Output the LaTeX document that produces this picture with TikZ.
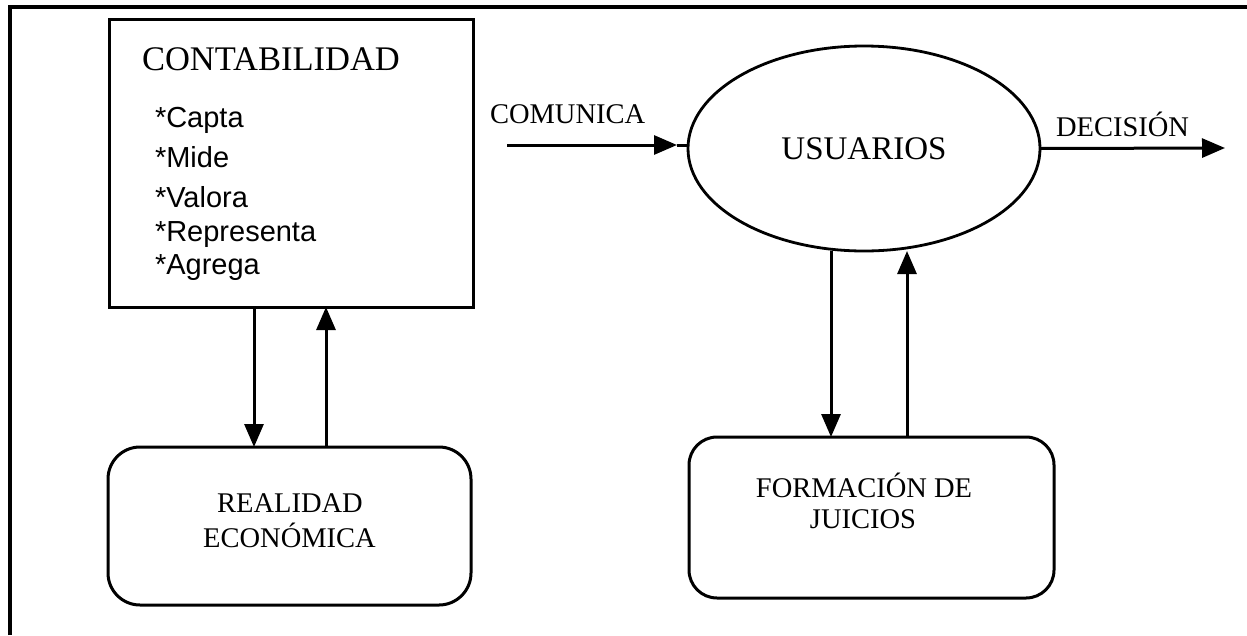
\documentclass[tikz,border=0pt]{standalone}
\usepackage{fontspec}
\setmainfont{Liberation Serif}
\newfontfamily\arialf{Liberation Sans}
\usetikzlibrary{arrows.meta,shapes.geometric}
\begin{document}
\begin{tikzpicture}[x=1pt,y=-1pt,
  boxst/.style={draw, line width=3pt, inner sep=0pt, outer sep=0pt},
  arr/.style={line width=3pt, -{Triangle[length=23pt,width=19pt]}},
  ln/.style={line width=3pt},
  txt/.style={inner sep=0pt, outer sep=0pt},
  lbl/.style={txt, font=\fontsize{28.5}{34}\selectfont},
  item/.style={txt, anchor=base west, font=\arialf\fontsize{29}{34}\selectfont}]
\useasboundingbox (0,0) rectangle (1247,635);
% outer frame
\draw[line width=3.2pt] (10,635) -- (10,7) -- (1247,7);
% CONTABILIDAD box
\node[boxst, minimum width=364pt, minimum height=288pt] (cont) at (291,163) {};
\node[txt, anchor=base west, font=\fontsize{34.5}{40}\selectfont] (contt) at (142,70) {CONTABILIDAD};
\node[item] (i1) at (155,127) {*Capta};
\node[item] (i2) at (155,167) {*Mide};
\node[item] (i3) at (155,207) {*Valora};
\node[item] (i4) at (155,241) {*Representa};
\node[item] (i5) at (155,274) {*Agrega};
% USUARIOS ellipse
\node[draw, ellipse, line width=2.8pt, inner sep=0pt, outer sep=0pt,
      minimum width=352pt, minimum height=205pt,
      font=\fontsize{33}{38}\selectfont] (usr) at (864,148.5) {USUARIOS};
\node[lbl, anchor=base west] (com) at (490,123) {COMUNICA};
\node[lbl, anchor=base west] (dec) at (1056,136) {DECISIÓN};
% lower boxes
\node[boxst, rounded corners=32pt, minimum width=363pt, minimum height=158pt] (rea) at (289.5,526) {};
\node[lbl, anchor=base] (rea1) at (290,512) {REALIDAD};
\node[lbl, anchor=base] (rea2) at (289.5,547) {ECONÓMICA};
\node[boxst, rounded corners=28pt, minimum width=365pt, minimum height=161pt] (form) at (871.5,517.5) {};
\node[lbl, anchor=base] (for1) at (864,497) {FORMACIÓN DE};
\node[lbl, anchor=base] (for2) at (863,528) {JUICIOS};
% connectors
\coordinate (xa) at (254,0);
\coordinate (xb) at (326,0);
\coordinate (xc) at (831,0);
\coordinate (xd) at (907,0);
\draw[arr] (cont.south -| xa) -- (rea.north -| xa);
\draw[arr] (rea.north -| xb) -- (cont.south -| xb);
\draw[arr] (usr.south -| xc) -- (form.north -| xc);
\draw[arr] (form.north -| xd) -- (usr.south -| xd);
\coordinate (cin) at (507,145);
\coordinate (cint) at (677,145);
\draw[arr] (cin) -- (cint);
\draw[ln] (cint) -- (usr.west |- cint);
\coordinate (dout) at (1225,148);
\draw[arr] (usr.east) -- (dout);
\end{tikzpicture}
\end{document}
